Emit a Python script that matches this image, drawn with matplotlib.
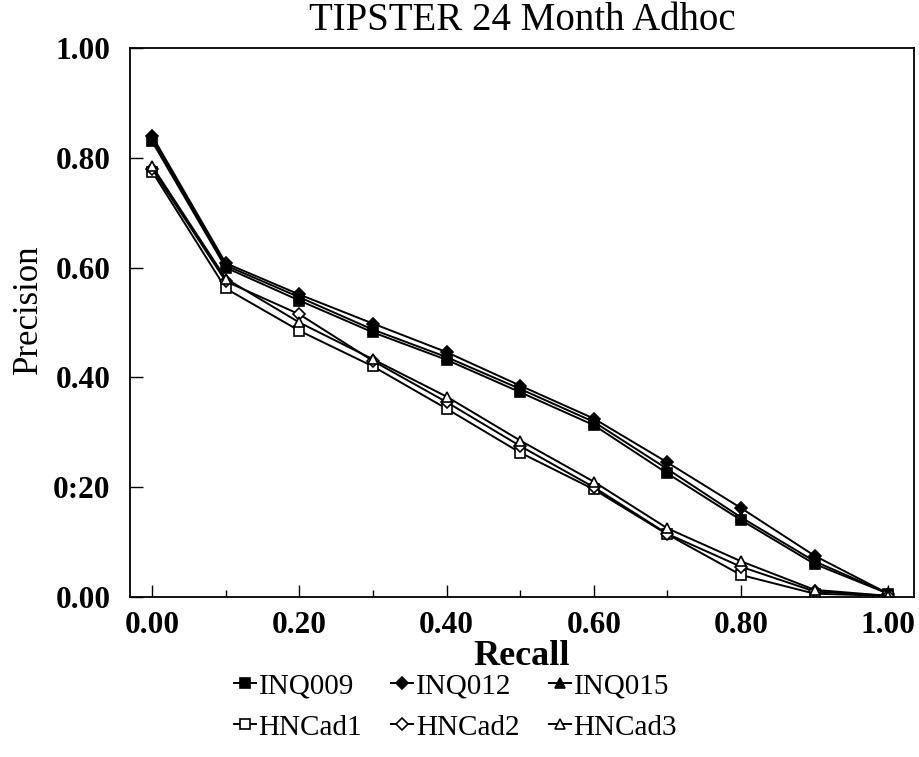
import matplotlib
matplotlib.use("Agg")
import matplotlib.pyplot as plt
from matplotlib.ticker import MultipleLocator

plt.rcParams['font.family'] = ['Liberation Serif', 'DejaVu Serif']

recall = [0.0, 0.1, 0.2, 0.3, 0.4, 0.5, 0.6, 0.7, 0.8, 0.9, 1.0]

inq009 = [0.83, 0.600, 0.540, 0.482, 0.432, 0.373, 0.313, 0.225, 0.140, 0.060, 0.006]
inq012 = [0.84, 0.608, 0.551, 0.498, 0.446, 0.385, 0.325, 0.245, 0.162, 0.075, 0.006]
inq015 = [0.835, 0.604, 0.546, 0.487, 0.437, 0.379, 0.319, 0.233, 0.145, 0.065, 0.006]
hncad1 = [0.775, 0.562, 0.485, 0.420, 0.343, 0.263, 0.196, 0.114, 0.040, 0.006, 0.002]
hncad2 = [0.780, 0.575, 0.515, 0.430, 0.355, 0.275, 0.200, 0.115, 0.055, 0.010, 0.002]
hncad3 = [0.785, 0.580, 0.500, 0.433, 0.365, 0.285, 0.210, 0.125, 0.065, 0.013, 0.002]

names = ['INQ009', 'INQ012', 'INQ015', 'HNCad1', 'HNCad2', 'HNCad3']
series = [inq009, inq012, inq015, hncad1, hncad2, hncad3]
markers = ['s', 'D', '^', 's', 'D', '^']
filled = [True, True, True, False, False, False]

fig = plt.figure(figsize=(9.2, 7.57), dpi=100)
ax = fig.add_axes([0.1413, 0.2114, 0.8522, 0.7252])

lines = {}
for name, vals, m, f in zip(names, series, markers, filled):
    ms = 6 if m == 'D' else 7
    ln, = ax.plot(recall, vals, color='black', lw=1.4, marker=m, markersize=ms,
                  markerfacecolor='black' if f else 'white',
                  markeredgecolor='black', markeredgewidth=1.2, label=name)
    lines[name] = ln

ax.set_xlim(-0.030, 1.035)
ax.set_ylim(0.0, 1.0)
ax.xaxis.set_minor_locator(MultipleLocator(0.1))
ax.set_xticks([0.0, 0.2, 0.4, 0.6, 0.8, 1.0])
ax.set_xticklabels(['0.00', '0.20', '0.40', '0.60', '0.80', '1.00'])
ax.set_yticks([0.0, 0.2, 0.4, 0.6, 0.8, 1.0])
ax.set_yticklabels(['0.00', '0:20', '0.40', '0.60', '0.80', '1.00'])
ax.tick_params(axis='both', which='major', direction='in', length=9, width=1,
               labelsize=22.5)
ax.tick_params(axis='x', which='major', pad=10)
ax.tick_params(axis='y', which='major', pad=14)
ax.tick_params(axis='both', which='minor', direction='in', length=5, width=1)
for lab in ax.get_xticklabels() + ax.get_yticklabels():
    lab.set_fontweight('bold')
for sp in ax.spines.values():
    sp.set_linewidth(1.3)

ax.set_title('TIPSTER 24 Month Adhoc', fontsize=28, pad=13)
ax.set_xlabel('Recall', fontsize=26, fontweight='bold', labelpad=0)
ax.set_ylabel('Precision', fontsize=25)
ax.yaxis.set_label_coords(-0.108, 0.525)

# legend filled column-wise, so reorder to get rows INQ..., HNCad...
order = ['INQ009', 'HNCad1', 'INQ012', 'HNCad2', 'INQ015', 'HNCad3']
fig.legend([lines[n] for n in order], order, loc='upper center',
           bbox_to_anchor=(0.495, 0.13), ncol=3, frameon=False, fontsize=21,
           handlelength=0.75, handletextpad=0.1, columnspacing=1.0,
           labelspacing=0.5, borderpad=0)

fig.savefig('out.png', dpi=100)
